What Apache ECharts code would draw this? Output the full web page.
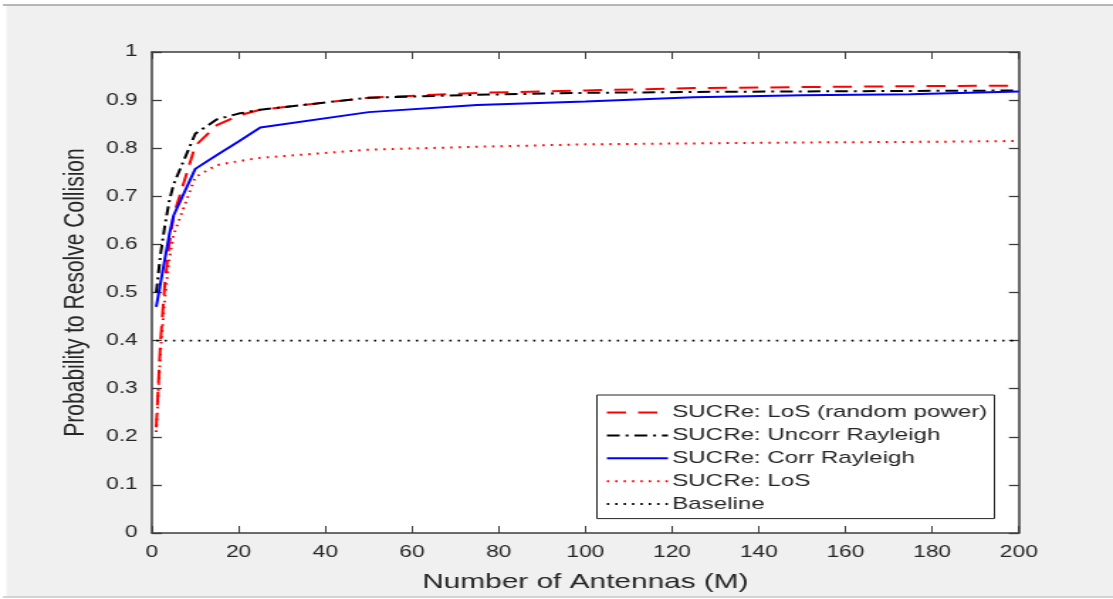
<!DOCTYPE html>
<html>
<head>
<meta charset="utf-8">
<script src="https://cdn.jsdelivr.net/npm/echarts@6/dist/echarts.min.js"></script>
<style>
  html, body { margin: 0; padding: 0; background: #ffffff; overflow: hidden; }
  /* figure is drawn at a narrower width and stretched horizontally */
  #chart { width: 784px; height: 599px; transform: scaleX(1.4196); transform-origin: 0 0; }
</style>
</head>
<body>
<div id="chart"></div>
<script>
// Number of base station antennas (M)
const antennas = [1, 2, 3, 4, 5, 10, 15, 20, 25, 50, 75, 100, 125, 150, 175, 200];

// Probability to resolve collision for each channel model
const losRandomPower = [0.22, 0.40, 0.52, 0.60, 0.66, 0.805, 0.848, 0.868, 0.880, 0.905, 0.915, 0.920, 0.925, 0.927, 0.929, 0.930];
const uncorrRayleigh = [0.50, 0.58, 0.64, 0.69, 0.725, 0.830, 0.860, 0.872, 0.880, 0.905, 0.911, 0.915, 0.917, 0.918, 0.919, 0.920];
const corrRayleigh   = [0.47, 0.52, 0.57, 0.62, 0.66, 0.757, 0.786, 0.814, 0.843, 0.875, 0.890, 0.897, 0.906, 0.910, 0.912, 0.918];
const losEqualPower  = [0.21, 0.38, 0.49, 0.57, 0.62, 0.740, 0.765, 0.773, 0.780, 0.797, 0.803, 0.808, 0.810, 0.812, 0.813, 0.815];
const baselineM      = [1, 200];
const baselineProb   = [0.4, 0.4];

// Tick labels
const xTickLabels = ['0', '20', '40', '60', '80', '100', '120', '140', '160', '180', '200'];
const yTickLabels = ['0', '0.1', '0.2', '0.3', '0.4', '0.5', '0.6', '0.7', '0.8', '0.9', '1'];

const seriesNames = [
  'SUCRe: LoS (random power)',
  'SUCRe: Uncorr Rayleigh',
  'SUCRe: Corr Rayleigh',
  'SUCRe: LoS',
  'Baseline'
];

const pairs = (xs, ys) => xs.map((x, i) => [x, ys[i]]);

const axisColor = '#3c3c3c';
const textColor = '#262626';
const font = 'Liberation Sans, Arial, Helvetica, sans-serif';

const chart = echarts.init(document.getElementById('chart'));

function lineSeries(name, data, color, width, dash) {
  return {
    name: name,
    type: 'line',
    data: data,
    symbol: 'none',
    smooth: false,
    z: 3,
    lineStyle: { color: color, width: width, type: dash, cap: 'butt' },
    itemStyle: { color: color },
    emphasis: { disabled: true }
  };
}

const baseAxisX = {
  type: 'value', min: 0, max: 200, interval: 20,
  axisLine: { show: true, onZero: false, lineStyle: { color: axisColor, width: 1.5 } },
  axisTick: { show: true, inside: true, length: 7, lineStyle: { color: axisColor, width: 1 } },
  splitLine: { show: false }
};
const baseAxisY = {
  type: 'value', min: 0, max: 1, interval: 0.1,
  axisLine: { show: true, onZero: false, lineStyle: { color: axisColor, width: 1.5 } },
  axisTick: { show: true, inside: true, length: 7, lineStyle: { color: axisColor, width: 1.3 } },
  splitLine: { show: false }
};

chart.setOption({
  animation: false,
  backgroundColor: 'transparent',
  graphic: [
    { type: 'rect', z: -10, shape: { x: 4.5, y: 5, width: 800, height: 592 }, style: { fill: '#f0f0f0' }, silent: true },
    { type: 'line', z: -9, shape: { x1: 2, y1: 5, x2: 800, y2: 5 }, style: { stroke: '#a0a0a0', lineWidth: 1.5 }, silent: true },
    { type: 'line', z: -9, shape: { x1: 2, y1: 597, x2: 800, y2: 597 }, style: { stroke: '#c8c8c8', lineWidth: 1.5 }, silent: true },
    { type: 'rect', z: -8, shape: { x: 107, y: 52, width: 610.7, height: 481 }, style: { fill: '#ffffff' }, silent: true }
  ],
  grid: { left: 107, right: 66.3, top: 52, bottom: 66, containLabel: false },
  xAxis: [
    Object.assign({}, baseAxisX, {
      position: 'bottom',
      name: 'Number of Antennas (M)',
      nameLocation: 'middle',
      nameGap: 39,
      nameTextStyle: { fontFamily: font, fontSize: 21, color: textColor },
      axisLabel: {
        show: true, margin: 12, fontFamily: font, fontSize: 16, color: textColor,
        formatter: (v) => xTickLabels[Math.round(v / 20)]
      }
    }),
    Object.assign({}, baseAxisX, { position: 'top', axisLabel: { show: false } })
  ],
  yAxis: [
    Object.assign({}, baseAxisY, {
      position: 'left',
      name: 'Probability to Resolve Collision',
      nameLocation: 'middle',
      nameGap: 42,
      nameTextStyle: { fontFamily: font, fontSize: 21, color: textColor },
      axisLabel: {
        show: true, margin: 10, fontFamily: font, fontSize: 16, color: textColor,
        formatter: (v) => yTickLabels[Math.round(v * 10)]
      }
    }),
    Object.assign({}, baseAxisY, { position: 'right', axisLabel: { show: false } })
  ],
  legend: {
    orient: 'vertical',
    left: 420.5,
    top: 395,
    padding: [9, 5, 6, 6],
    itemWidth: 43,
    itemHeight: 14,
    itemGap: 5.9,
    backgroundColor: '#ffffff',
    borderColor: textColor,
    borderWidth: 1,
    borderRadius: 0,
    itemStyle: { opacity: 0, borderWidth: 0 },
    textStyle: { fontFamily: font, fontSize: 17, color: textColor, padding: [0, 0, 0, -2] },
    data: seriesNames,
    selectedMode: false
  },
  series: [
    lineSeries(seriesNames[0], pairs(antennas, losRandomPower), '#ff0000', 2, [13.5, 8.5]),
    lineSeries(seriesNames[1], pairs(antennas, uncorrRayleigh), '#000000', 2, [9, 4.2, 2, 4.2]),
    lineSeries(seriesNames[2], pairs(antennas, corrRayleigh), '#0000ff', 2, 'solid'),
    lineSeries(seriesNames[3], pairs(antennas, losEqualPower), '#ff0000', 2, [1.6, 4.3]),
    lineSeries(seriesNames[4], pairs(baselineM, baselineProb), '#000000', 1.6, [1.6, 4.3])
  ]
});
</script>
</body>
</html>
